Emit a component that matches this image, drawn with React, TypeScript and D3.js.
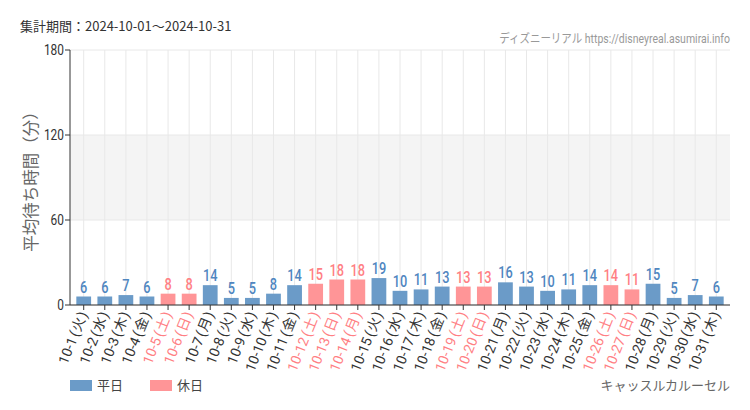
import React from 'react';
import * as d3 from 'd3';

const dates = ['10-1', '10-2', '10-3', '10-4', '10-5', '10-6', '10-7', '10-8', '10-9', '10-10', '10-11', '10-12', '10-13', '10-14', '10-15', '10-16', '10-17', '10-18', '10-19', '10-20', '10-21', '10-22', '10-23', '10-24', '10-25', '10-26', '10-27', '10-28', '10-29', '10-30', '10-31'];
const weekdays = ['火', '水', '木', '金', '土', '日', '月', '火', '水', '木', '金', '土', '日', '月', '火', '水', '木', '金', '土', '日', '月', '火', '水', '木', '金', '土', '日', '月', '火', '水', '木'];
const waits = [6, 6, 7, 6, 8, 8, 14, 5, 5, 8, 14, 15, 18, 18, 19, 10, 11, 13, 13, 13, 16, 13, 10, 11, 14, 14, 11, 15, 5, 7, 6];
const holidays = [0, 0, 0, 0, 1, 1, 0, 0, 0, 0, 0, 1, 1, 1, 0, 0, 0, 0, 1, 1, 0, 0, 0, 0, 0, 1, 1, 0, 0, 0, 0];
const yTicks = [0, 60, 120, 180];

const W = 750;
const H = 410;
const margin = { top: 50, right: 20, bottom: 105, left: 70 };

const BLUE = '#6b9bc8';
const PINK = '#ff9597';
const BLUE_TXT = '#4f86bf';
const PINK_TXT = '#ff7f84';
const FONT = 'Roboto, "Noto Sans CJK JP", sans-serif';
const JP = '"Noto Sans CJK JP", sans-serif';

export default function App() {
  const x = d3.scaleBand<string>().domain(dates).range([margin.left, W - margin.right]).padding(0.3);
  const y = d3.scaleLinear().domain([0, 180]).range([H - margin.bottom, margin.top]);
  const x0 = margin.left;
  const x1 = W - margin.right;
  const yb = y(0);
  const mid = (d: string) => (x(d) as number) + x.bandwidth() / 2;

  return (
    <svg width={W} height={H} style={{ position: 'absolute', left: 0, top: 0, background: '#fff' }}>
      {/* header */}
      <text x={20} y={31} fontSize={13} fill="#333" fontFamily={JP}>集計期間：2024-10-01～2024-10-31</text>
      <text transform={`translate(${x1}, 43) scale(0.84,1)`} fontSize={12.5} fill="#999" textAnchor="end" fontFamily={FONT}>ディズニーリアル https://disneyreal.asumirai.info</text>

      {/* shaded band */}
      <rect x={x0} y={y(120)} width={x1 - x0} height={y(60) - y(120)} fill="#f4f4f4" />
      {yTicks.map(t => (
        <line key={t} x1={x0} x2={x1} y1={y(t)} y2={y(t)} stroke="#e8e8e8" />
      ))}
      {dates.map(d => (
        <line key={d} x1={mid(d)} x2={mid(d)} y1={y(180)} y2={yb} stroke="#e8e8e8" />
      ))}

      {/* bars */}
      {dates.map((d, i) => (
        <rect key={d} x={x(d)} y={y(waits[i])} width={x.bandwidth()} height={yb - y(waits[i])} fill={holidays[i] ? PINK : BLUE} />
      ))}
      {dates.map((d, i) => (
        <text key={d} transform={`translate(${mid(d)}, ${y(waits[i]) - 4}) scale(0.75,1)`} textAnchor="middle" fontSize={17}
          fontWeight={500} fill={holidays[i] ? PINK_TXT : BLUE_TXT} fontFamily={FONT}>{waits[i]}</text>
      ))}

      {/* y axis */}
      <line x1={x0} x2={x0} y1={y(180)} y2={yb} stroke="#333" />
      {yTicks.map(t => (
        <g key={t}>
          <line x1={x0 - 5} x2={x0} y1={y(t)} y2={y(t)} stroke="#333" />
          <text transform={`translate(${x0 - 6}, ${y(t) + 5}) scale(0.85,1)`} textAnchor="end" fontSize={14} fill="#333" fontFamily={FONT}>{t}</text>
        </g>
      ))}
      <text transform={`translate(37, ${(y(0) + y(180)) / 2}) rotate(-90)`} textAnchor="middle" fontSize={16.5} fill="#666" fontFamily={JP}>平均待ち時間（分）</text>

      {/* x axis */}
      <line x1={x0} x2={x1} y1={yb} y2={yb} stroke="#333" />
      {dates.map((d, i) => (
        <g key={d}>
          <line x1={mid(d)} x2={mid(d)} y1={yb} y2={yb + 5} stroke="#333" />
          <text transform={`translate(${mid(d) + 4}, ${yb + 9}) rotate(-68)`} textAnchor="end" fontSize={14}
            fill={holidays[i] ? PINK_TXT : '#333'} fontFamily={FONT}>
            <tspan>{d}</tspan>
            <tspan dx={2}>(</tspan>
            <tspan dx={1}>{weekdays[i]}</tspan>
            <tspan dx={1}>)</tspan>
          </text>
        </g>
      ))}

      {/* legend */}
      <rect x={70} y={380} width={22} height={11} fill={BLUE} />
      <text x={97} y={390} fontSize={13} fill="#444" fontFamily={JP}>平日</text>
      <rect x={150} y={380} width={22} height={11} fill={PINK} />
      <text x={177} y={390} fontSize={13} fill="#444" fontFamily={JP}>休日</text>
      <text x={x1} y={390} fontSize={13} fill="#666" textAnchor="end" fontFamily={JP}>キャッスルカルーセル</text>
    </svg>
  );
}
